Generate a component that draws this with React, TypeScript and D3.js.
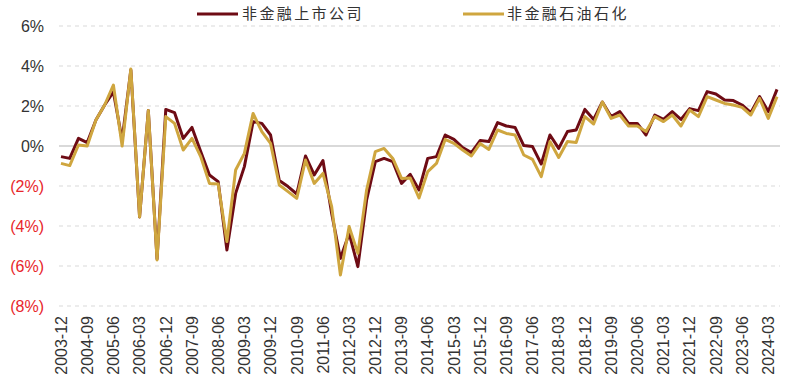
import React from "react";
import * as d3 from "d3";

const quarters: string[] = (() => {
  const out: string[] = [];
  const ms = ["03", "06", "09", "12"];
  out.push("2003-12");
  for (let y = 2004; y <= 2024; y++) {
    for (const m of ms) {
      if (y === 2024 && (m === "09" || m === "12")) continue;
      out.push(`${y}-${m}`);
    }
  }
  return out;
})();

const seriesNames = ["非金融上市公司", "非金融石油石化"];

const nonFinListed: number[] = [
  -0.53, -0.62, 0.38, 0.17, 1.3, 2.05, 2.7, 0.3, 3.8, -3.55, 1.77, -5.65,
  1.83, 1.67, 0.38, 0.93, -0.28, -1.45, -1.78, -5.2, -2.37, -1.03, 1.22, 1.13,
  0.55, -1.73, -2.03, -2.4, -0.5, -1.45, -0.73, -3.37, -5.62, -4.37, -6.03, -2.7,
  -0.78, -0.62, -0.78, -1.87, -1.42, -2.2, -0.62, -0.53, 0.55, 0.33, -0.08, -0.33,
  0.27, 0.22, 1.17, 1.0, 0.93, 0.02, -0.03, -0.9, 0.55, -0.12, 0.72, 0.8,
  1.83, 1.33, 2.2, 1.47, 1.72, 1.13, 1.13, 0.55, 1.55, 1.33, 1.72, 1.33,
  1.87, 1.77, 2.72, 2.6, 2.3, 2.27, 2.05, 1.67, 2.47, 1.72, 2.83,
];

const nonFinPetro: number[] = [
  -0.87, -0.98, 0.05, 0.0, 1.3, 2.05, 3.05, 0.0, 3.85, -3.55, 1.77, -5.7,
  1.47, 1.13, -0.2, 0.38, -0.53, -1.87, -1.9, -4.78, -1.2, -0.37, 1.63, 0.72,
  0.13, -1.95, -2.28, -2.62, -0.7, -1.87, -1.37, -3.03, -6.45, -4.03, -5.37, -2.2,
  -0.28, -0.12, -0.62, -1.62, -1.6, -2.6, -1.28, -0.87, 0.33, 0.13, -0.2, -0.5,
  0.13, -0.17, 0.8, 0.63, 0.55, -0.45, -0.67, -1.53, 0.22, -0.57, 0.22, 0.17,
  1.47, 1.1, 2.2, 1.38, 1.55, 1.0, 1.0, 0.72, 1.47, 1.22, 1.55, 1.0,
  1.8, 1.47, 2.47, 2.3, 2.13, 2.05, 1.93, 1.55, 2.38, 1.38, 2.47,
];

const yTicks: number[] = [6, 4, 2, 0, -2, -4, -6, -8];

const COLORS = ["#6e0b14", "#cfa63f"];

export default function App() {
  const W = 786;
  const H = 386;
  const x = d3.scalePoint<string>().domain(quarters).range([61, 777]);
  const y = d3.scaleLinear().domain([-8, 6]).range([306, 26]);
  const line = d3
    .line<number>()
    .x((_, i) => x(quarters[i]) as number)
    .y((d) => y(d));

  const fmt = (v: number) => (v < 0 ? `(${Math.abs(v)}%)` : `${v}%`);
  const labelIdx = quarters.map((_, i) => i).filter((i) => i % 3 === 0);

  return (
    <svg
      width={W}
      height={H}
      style={{ position: "absolute", left: 0, top: 0, background: "#fff" }}
      fontFamily="'Liberation Sans', Arial, sans-serif"
    >
      {yTicks.map((t) => (
        <line
          key={"g" + t}
          x1={59}
          x2={780}
          y1={y(t)}
          y2={y(t)}
          stroke={t === 0 ? "#d9d9d9" : "#d9d9d9"}
          strokeWidth={t === 0 ? 2 : 1.2}
          strokeDasharray={t === 0 ? undefined : "4 4"}
        />
      ))}
      {yTicks.map((t) => (
        <text
          key={"yl" + t}
          x={44}
          y={y(t)}
          dy="0.36em"
          textAnchor="end"
          fontSize={16}
          fill={t < 0 ? "#e8262b" : "#333"}
        >
          {fmt(t)}
        </text>
      ))}
      {labelIdx.map((i) => (
        <text
          key={"xl" + i}
          transform={`translate(${x(quarters[i])},316) rotate(-90)`}
          dy="0.36em"
          textAnchor="end"
          fontSize={16}
          fill="#333"
        >
          {quarters[i]}
        </text>
      ))}
      <path d={line(nonFinListed) || ""} fill="none" stroke={COLORS[0]} strokeWidth={3} strokeLinejoin="round" />
      <path d={line(nonFinPetro) || ""} fill="none" stroke={COLORS[1]} strokeWidth={3} strokeLinejoin="round" />
      {/* legend */}
      {[
        { x0: 197, tx: 242 },
        { x0: 463, tx: 507 },
      ].map((l, k) => (
        <g key={"lg" + k}>
          <line x1={l.x0} x2={l.x0 + 41} y1={14} y2={14} stroke={COLORS[k]} strokeWidth={3} />
          <text
            x={l.tx}
            y={14}
            dy="0.36em"
            fontSize={15}
            letterSpacing={2.4}
            fill="#333"
            fontFamily="'Noto Sans CJK SC', sans-serif"
          >
            {seriesNames[k]}
          </text>
        </g>
      ))}
    </svg>
  );
}
